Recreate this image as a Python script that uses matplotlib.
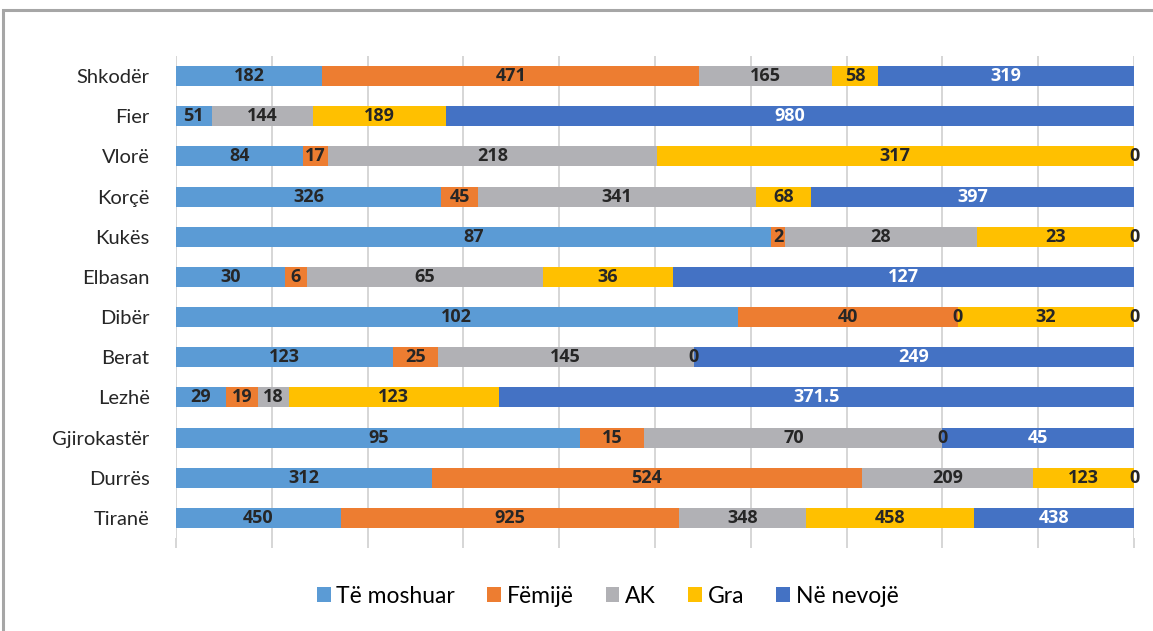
import numpy as np
import matplotlib
matplotlib.use("Agg")
import matplotlib.pyplot as plt
from matplotlib.patches import Rectangle

plt.rcParams["font.family"] = ["Lato", "DejaVu Sans"]

regions = ["Shkodër", "Fier", "Vlorë", "Korçë", "Kukës", "Elbasan",
           "Dibër", "Berat", "Lezhë", "Gjirokastër", "Durrës", "Tiranë"]
series = ["Të moshuar", "Fëmijë", "AK", "Gra", "Në nevojë"]

te_moshuar = [182, 51, 84, 326, 87, 30, 102, 123, 29, 95, 312, 450]
femije = [471, np.nan, 17, 45, 2, 6, 40, 25, 19, 15, 524, 925]
ak = [165, 144, 218, 341, 28, 65, 0, 145, 18, 70, 209, 348]
gra = [58, 189, 317, 68, 23, 36, 32, 0, 123, 0, 123, 458]
ne_nevoje = [319, 980, 0, 397, 0, 127, 0, 249, 371.5, 45, 0, 438]

colors = ["#5B9BD5", "#ED7D31", "#B1B1B5", "#FFC000", "#4472C4"]
label_colors = ["#262626", "#262626", "#262626", "#262626", "white"]

data = np.array([te_moshuar, femije, ak, gra, ne_nevoje], dtype=float)
vals = np.nan_to_num(data)
totals = vals.sum(axis=0)
pct = vals / totals

fig = plt.figure(figsize=(11.53, 6.31), dpi=100)
ax = fig.add_axes([176 / 1153, 1 - 538 / 631, (1134 - 176) / 1153, (538 - 56) / 631])

# outer chart frame
fig.patches.append(Rectangle((3 / 1153, -0.1), 1.2, 1 - 10 / 631 + 0.1,
                             transform=fig.transFigure, fill=False,
                             edgecolor="#A6A6A6", linewidth=2.2))

y = np.arange(len(regions))
left = np.zeros(len(regions))
for i, name in enumerate(series):
    ax.barh(y, pct[i], left=left, height=0.5, color=colors[i], label=name, zorder=2)
    for j in range(len(regions)):
        v = data[i, j]
        if np.isnan(v):
            continue
        c = "#262626" if v == 0 else label_colors[i]
        ax.text(left[j] + pct[i, j] / 2, y[j], f"{v:g}", ha="center", va="center",
                fontsize=13, fontweight="bold", color=c, zorder=3, clip_on=False,
                family=["Open Sans", "DejaVu Sans"])
    left += pct[i]

ax.set_xlim(0, 1)
ax.set_ylim(len(regions) - 0.5, -0.5)
ax.set_yticks(y)
ax.set_yticklabels(regions, fontsize=14.5, color="#262626")
ax.set_xticks(np.linspace(0, 1, 11))
ax.set_xticklabels([])
ax.tick_params(axis="x", length=7, color="#D0D0D0", width=1.2)
ax.tick_params(axis="y", length=0, pad=19)
ax.grid(axis="x", color="#D0D0D0", linewidth=1.2, zorder=0)
for s in ax.spines.values():
    s.set_visible(False)

fig.legend(loc="center", bbox_to_anchor=(0.527, 0.055), ncol=5, frameon=False,
           fontsize=16.5, handlelength=0.6, handleheight=0.6, handletextpad=0.25,
           columnspacing=1.4)

fig.savefig("out.png", dpi=100)
